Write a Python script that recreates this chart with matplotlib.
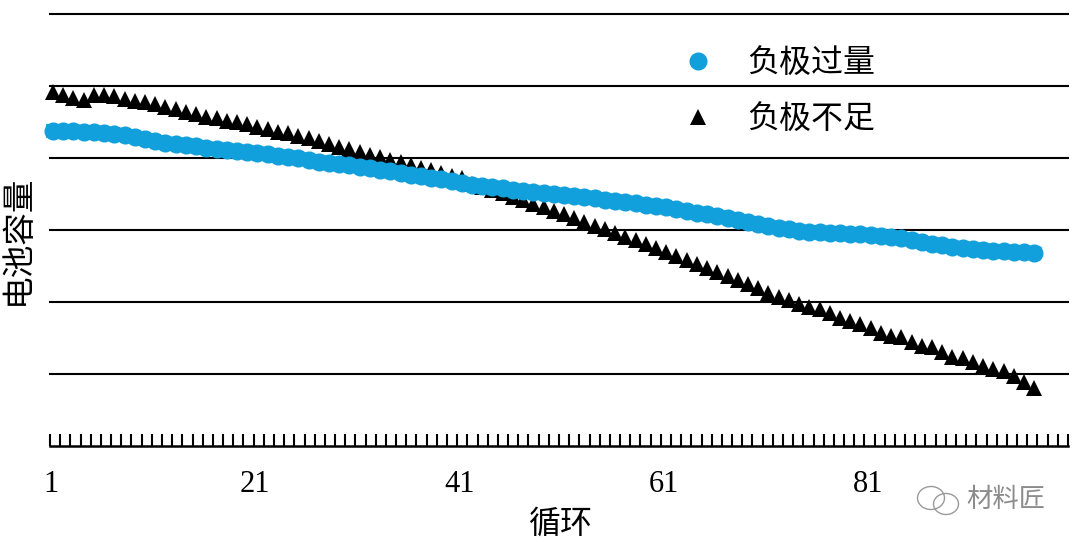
import matplotlib.pyplot as plt
import numpy as np
from matplotlib.patches import Ellipse

plt.rcParams['font.family'] = ['Liberation Serif', 'Noto Sans CJK SC', 'DejaVu Sans']

# capacity has no scale in the source, so values are just height above the axis
excess_anode = [315, 315, 315, 314, 314, 313, 312, 311, 309, 307,
                305, 303, 302, 301, 300, 298, 297, 296, 295, 294,
                293, 292, 290, 289, 288, 286, 284, 283, 282, 281,
                279, 278, 276, 275, 273, 271, 270, 268, 267, 265,
                263, 261, 260, 259, 258, 256, 255, 254, 253, 252,
                251, 250, 249, 248, 246, 245, 244, 243, 241, 240,
                239, 237, 235, 233, 232, 230, 228, 226, 224, 222,
                220, 218, 217, 215, 214, 214, 213, 213, 212, 212,
                211, 210, 209, 208, 206, 204, 202, 201, 199, 198,
                197, 196, 195, 195, 194, 194, 193]
short_anode = [354, 351, 348, 346, 351, 351, 350, 347, 345, 344,
               342, 339, 337, 334, 332, 329, 328, 325, 324, 322,
               319, 317, 314, 313, 310, 308, 305, 302, 299, 297,
               294, 291, 289, 286, 284, 281, 278, 276, 273, 270,
               268, 262, 259, 256, 253, 249, 246, 242, 239, 235,
               232, 228, 224, 220, 217, 213, 209, 206, 202, 198,
               194, 190, 186, 182, 178, 174, 170, 166, 162, 158,
               153, 149, 146, 142, 139, 137, 133, 128, 125, 122,
               118, 113, 110, 109, 104, 100, 99, 94, 89, 88,
               84, 80, 77, 75, 70, 64, 58]
cycles = np.arange(1, len(excess_anode) + 1)
tick_labels = [1, 21, 41, 61, 81]

fig = plt.figure(figsize=(10.8, 5.47), dpi=100)
ax = fig.add_axes([50 / 1080, 1 - 446 / 547, 1018 / 1080, 432 / 547])

# blue sits over the triangles where the two curves cross
ax.plot(cycles, short_anode, '^', color='black', ms=11, mew=0, clip_on=False,
        zorder=3, label='负极不足')
ax.plot(cycles, excess_anode, '-', color='#12a0dc', lw=10, clip_on=False, zorder=4)
ax.plot(cycles, excess_anode, 'o', color='#12a0dc', ms=13, mew=0, clip_on=False,
        zorder=4, label='负极过量')

ax.set_xlim(0.706, 100.31)
ax.set_ylim(0, 432)
ax.set_yticks(np.arange(72, 433, 72))
ax.tick_params(axis='y', length=0, labelleft=False)
ax.grid(axis='y', color='black', lw=1.5, clip_on=False)
ax.set_axisbelow(True)
for side in ['top', 'left', 'right']:
    ax.spines[side].set_visible(False)
ax.spines['bottom'].set_linewidth(1.8)

ax.set_xticks(np.linspace(0.706, 100.31, 101))
ax.tick_params(axis='x', direction='in', length=8.5, width=1.5, labelbottom=False)
for c in tick_labels:
    ax.text(c - 0.2, -38, str(c), ha='center', va='center', fontsize=22)

fig.text(560 / 1080, 1 - 525 / 547, '循环', ha='center', va='center', fontsize=23)
fig.text(19 / 1080, 1 - 240 / 547, '电池容量', ha='center', va='center', rotation=90, fontsize=23.5)

handles, labels = ax.get_legend_handles_labels()
ax.legend(handles[::-1], labels[::-1], loc='upper left', bbox_to_anchor=(0.5955, 0.956),
          frameon=False, fontsize=23, labelspacing=0.81, handletextpad=0.75,
          handlelength=1.6, borderpad=0)

# watermark
fig.text(1006 / 1080, 1 - 500 / 547, '材料匠', ha='center', va='center', fontsize=19,
         color='#8c8c8c')
for cx, cy, w, h in [(931, 498, 27, 23), (946, 504, 25, 21)]:
    fig.add_artist(Ellipse((cx / 1080, 1 - cy / 547), w / 1080, h / 547, fill=False,
                           ec='#9a9a9a', lw=1, transform=fig.transFigure))

fig.savefig('out.png', dpi=100)
